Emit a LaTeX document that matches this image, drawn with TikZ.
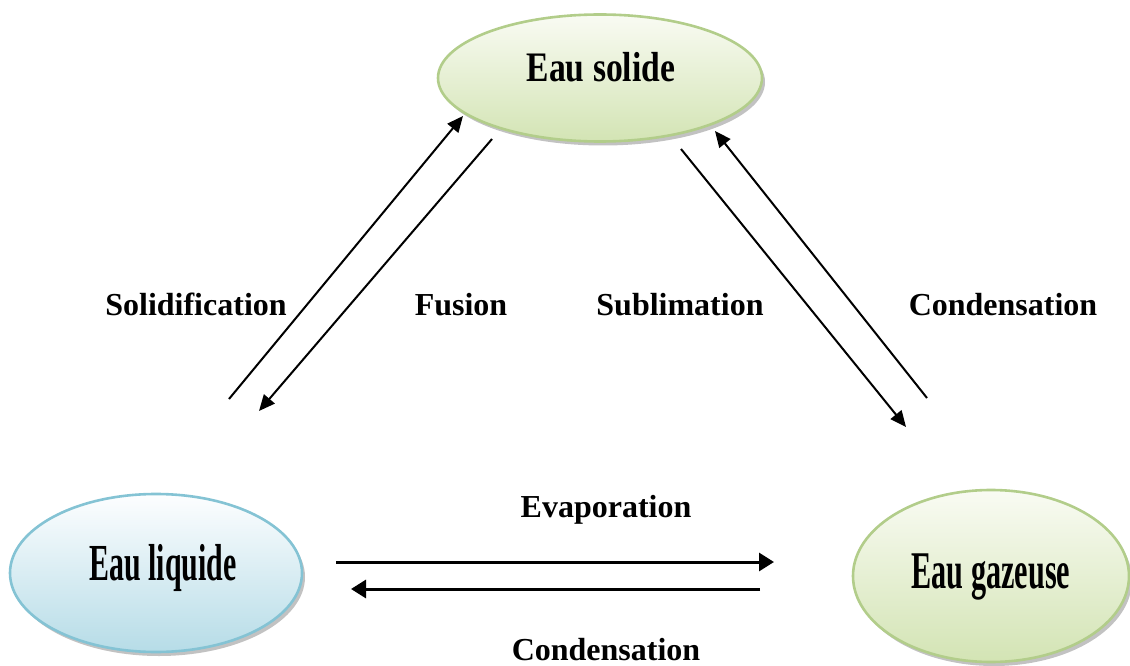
\documentclass[tikz,border=0pt]{standalone}
\usepackage{fontspec}
\setmainfont{Liberation Serif}
\usetikzlibrary{arrows.meta,shapes.geometric,shadows}

\definecolor{greenedge}{HTML}{B2CD8A}
\definecolor{greenlow}{HTML}{D3E4B4}
\definecolor{greentop}{HTML}{F9FBF3}
\definecolor{blueedge}{HTML}{84C3D4}
\definecolor{bluelow}{HTML}{B6DCE7}
\definecolor{bluetop}{HTML}{FDFEFF}

\tikzset{
  phase/.style={ellipse, inner sep=0pt, line width=2.6pt,
    drop shadow={shadow xshift=3pt, shadow yshift=-4pt, opacity=0.4, fill=black!60}},
  greenphase/.style={phase, draw=greenedge, top color=greentop, bottom color=greenlow},
  bluephase/.style={phase, draw=blueedge, top color=bluetop, bottom color=bluelow},
  phasetext/.style={anchor=base, inner sep=0pt, font=\bfseries},
  proc/.style={anchor=base, inner sep=0pt, font=\bfseries\fontsize{32}{38}\selectfont},
  diagarrow/.style={line width=2pt, -{Triangle[length=16pt,width=14pt]}},
  flatarrow/.style={line width=3pt, -{Triangle[length=15pt,width=18pt]}}
}

\begin{document}
\begin{tikzpicture}[x=1pt,y=-1pt]
\useasboundingbox (0,0) rectangle (1130,666);

% the three states of water
\node[greenphase, minimum width=324pt, minimum height=127pt] (solide) at (600,78) {};
\node[bluephase, minimum width=292pt, minimum height=158pt] (liquide) at (156,573) {};
\node[greenphase, minimum width=276pt, minimum height=172pt] (gaz) at (991,576) {};

\node[phasetext] (tsolide) at (601,82)
  {\scalebox{0.80}[1]{\fontsize{42}{48}\selectfont Eau solide}};
\node[phasetext] (tliquide) at (163,580)
  {\scalebox{0.575}[1]{\fontsize{52}{60}\selectfont Eau liquide}};
\node[phasetext] (tgaz) at (991,588)
  {\scalebox{0.57}[1]{\fontsize{53}{60}\selectfont Eau gazeuse}};

% arrow end points
\coordinate (solA) at (229,399);  \coordinate (solB) at (463,116);
\coordinate (fusA) at (492,139);  \coordinate (fusB) at (259,411);
\coordinate (subA) at (681,149);  \coordinate (subB) at (906,427);
\coordinate (conA) at (927,398);  \coordinate (conB) at (715,131);
\coordinate (evaA) at (336,562);  \coordinate (evaB) at (774,562);
\coordinate (cndA) at (760,589);  \coordinate (cndB) at (351,589);

\draw[diagarrow] (solA) -- (solB);
\draw[diagarrow] (fusA) -- (fusB);
\draw[diagarrow] (subA) -- (subB);
\draw[diagarrow] (conA) -- (conB);
\draw[flatarrow] (evaA) -- (evaB);
\draw[flatarrow] (cndA) -- (cndB);

% names of the transitions
\node[proc] (lsol) at (196,315) {Solidification};
\node[proc] (lfus) at (461,315) {Fusion};
\node[proc] (lsub) at (680,315) {Sublimation};
\node[proc] (lcon) at (1003,315) {Condensation};
\node[proc] (leva) at (606,517) {Evaporation};
\node[proc] (lcnd) at (606,660) {Condensation};
\end{tikzpicture}
\end{document}
